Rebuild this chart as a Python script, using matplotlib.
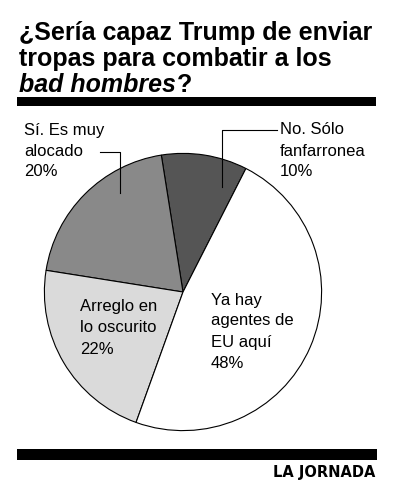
import matplotlib
matplotlib.use("Agg")
import matplotlib.pyplot as plt
from matplotlib import transforms

# datos de la encuesta
categorias = ["No. Sólo\nfanfarronea", "Sí. Es muy\nalocado", "Arreglo en\nlo oscurito", "Ya hay\nagentes de\nEU aquí"]
valores = [10, 20, 22, 48]
colores = ["#555555", "#898989", "#dadada", "#ffffff"]

plt.rcParams['font.family'] = ['Liberation Sans', 'DejaVu Sans']

W, H = 393, 500
fig = plt.figure(figsize=(W / 100, H / 100), dpi=100)
fig.patch.set_facecolor("white")

# pastel
cx, cy, r = 183, 292, 140
ax = fig.add_axes([(cx - r) / W, (H - cy - r) / H, 2 * r / W, 2 * r / H])
ax.pie(valores, colors=colores, startangle=63, counterclock=True,
       wedgeprops=dict(edgecolor="black", linewidth=0.8))
ax.set_xlim(-1.01, 1.01)
ax.set_ylim(-1.01, 1.01)
ax.set_aspect("equal")
ax.axis("off")

# capa para textos y líneas en pixeles (encima del pastel)
capa = fig.add_axes([0, 0, 1, 1])
capa.set_xlim(0, W)
capa.set_ylim(H, 0)
capa.axis("off")
capa.patch.set_alpha(0)
capa.set_zorder(5)

# titulo
ft = 18
capa.text(19, 33, "¿Sería capaz Trump de enviar", fontsize=ft, fontweight="bold", va="center")
capa.text(19, 59, "tropas para combatir a los", fontsize=ft, fontweight="bold", va="center")
t = capa.text(19, 85, "bad hombres", fontsize=ft, fontweight="bold", style="italic", va="center")
fig.canvas.draw()
x_fin = t.get_window_extent().x1 + 1
capa.text(x_fin, 85, "?", fontsize=ft, fontweight="bold", va="center",
          transform=transforms.blended_transform_factory(
              transforms.IdentityTransform(), capa.transData))

capa.fill_between([17, 376], 97, 106, color="black", lw=0)
capa.fill_between([17, 377], 449, 460, color="black", lw=0)
capa.text(375, 473, "LA JORNADA", fontsize=10.5, fontweight="bold",
          family="DejaVu Sans", ha="right", va="center")

# etiquetas
fs = 12
lh = 21


def etiqueta(x, y, texto, valor):
    lineas = texto.split("\n") + [f"{valor}%"]
    for i, linea in enumerate(lineas):
        capa.text(x, y + i * lh, linea, fontsize=fs, va="center")


etiqueta(280, 130, categorias[0], valores[0])
etiqueta(24, 130, categorias[1], valores[1])
etiqueta(80, 307, categorias[2], valores[2])
etiqueta(211, 300, categorias[3], valores[3])

# líneas guía
capa.plot([100, 120, 120], [152, 152, 193], color="black", lw=0.8)
capa.plot([277, 222, 222], [130, 130, 187], color="black", lw=0.8)

fig.savefig("out.png", dpi=100)
